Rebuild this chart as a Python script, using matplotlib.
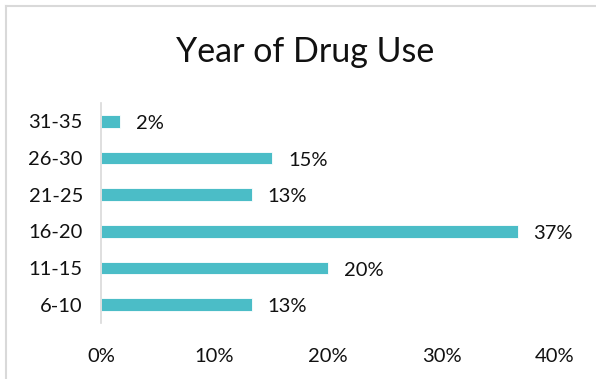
import matplotlib
matplotlib.use('Agg')
import matplotlib.pyplot as plt
from matplotlib.lines import Line2D

# Data
categories = ['6-10', '11-15', '16-20', '21-25', '26-30', '31-35']
shares = [13.3, 20.0, 36.7, 13.3, 15.1, 1.7]   # percent
xticks = [0, 10, 20, 30, 40]

bar_color = '#4BBDC7'
plt.rcParams['font.family'] = ['Lato', 'DejaVu Sans']

fig = plt.figure(figsize=(5.96, 3.79), dpi=100)
ax = fig.add_axes([101/596, 1 - 323/379, (555 - 101)/596, (323 - 103)/379])

ypos = range(len(categories))
ax.barh(ypos, shares, height=0.35, color=bar_color, edgecolor='white', linewidth=0.6)

for y, v in zip(ypos, shares):
    ax.text(v + 1.4, y - 0.06, f'{round(v)}%', va='center', ha='left', fontsize=14.5, color='#111111')

ax.set_xlim(0, 40)
ax.set_ylim(-0.5, 5.5)
ax.set_yticks(list(ypos))
ax.set_yticklabels(categories, fontsize=14.5, color='#111111')
ax.set_xticks(xticks)
ax.set_xticklabels([f'{t}%' for t in xticks], fontsize=14.5, color='#111111')
ax.tick_params(axis='both', length=0)
ax.tick_params(axis='x', pad=18)
ax.tick_params(axis='y', pad=13)

for s in ['top', 'right', 'bottom']:
    ax.spines[s].set_visible(False)
ax.spines['left'].set_color('#D9D9D9')
ax.spines['left'].set_linewidth(1.2)

fig.text(305/596, 1 - 62/379, 'Year of Drug Use', ha='center', va='baseline',
         fontsize=24.5, color='#111111')

# light frame on the left and top edges
fig.add_artist(Line2D([6/596, 6/596], [0, 1 - 6/379], transform=fig.transFigure,
                      color='#D9D9D9', linewidth=1.5))
fig.add_artist(Line2D([6/596, 1], [1 - 6/379, 1 - 6/379], transform=fig.transFigure,
                      color='#D9D9D9', linewidth=1.5))

fig.savefig('out.png', dpi=100)
